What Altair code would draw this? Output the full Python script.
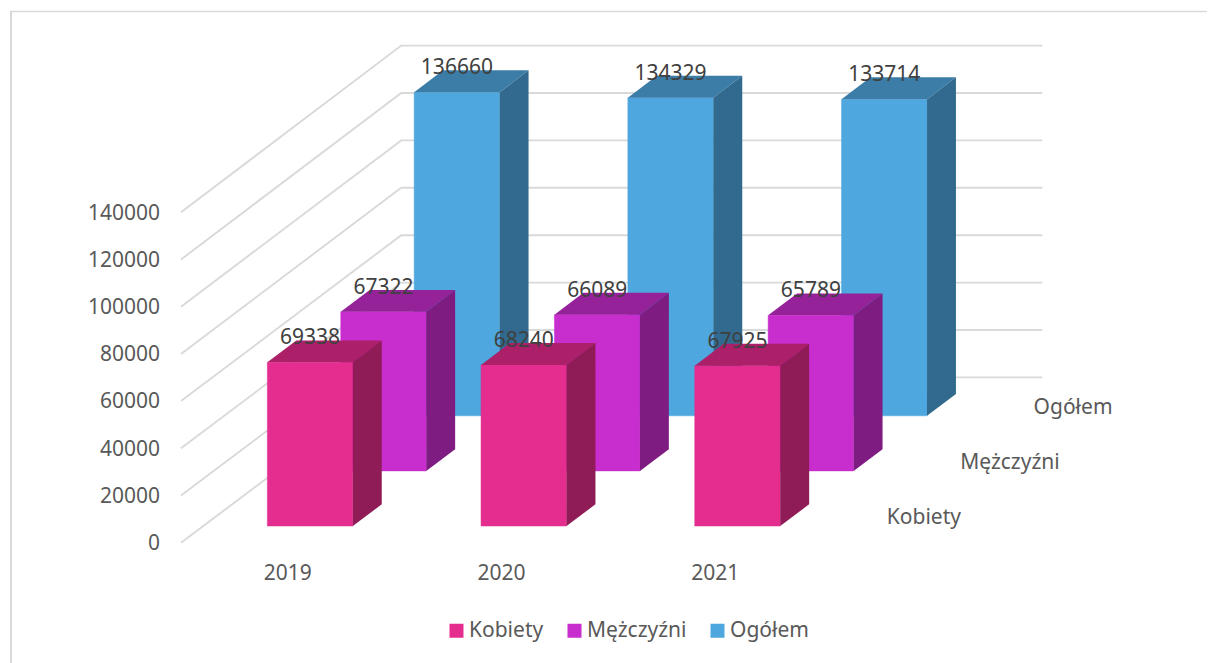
import altair as alt
import pandas as pd

years = ["2019", "2020", "2021"]
series = ["Kobiety", "Mężczyźni", "Ogółem"]
values = {
    "Kobiety": [69338, 68240, 67925],
    "Mężczyźni": [67322, 66089, 65789],
    "Ogółem": [136660, 134329, 133714],
}
ticks = [0, 20000, 40000, 60000, 80000, 100000, 120000, 140000]
front = ["#E42D8F", "#C82DCD", "#4EA7DE"]
top = ["#AB2069", "#96229A", "#3B7DA6"]
side = ["#8F1C57", "#7F1C82", "#316A8E"]
FONT = "Noto Sans"
FS = 21


def px(xu, d):
    return 181 + 213.7 * xu + 73.4 * d


def py(d, v):
    return 542.7 - 55.1 * d - (0.00236 + 0.00001 * d / 3) * v


W, H = 1205, 655
X = alt.X("x:Q", scale=alt.Scale(domain=[8, 8 + W], nice=False, zero=False), axis=None)
Y = alt.Y("y:Q", scale=alt.Scale(domain=[8 + H, 8], nice=False, zero=False), axis=None)
color = alt.Color(
    "series:N",
    scale=alt.Scale(domain=series, range=front),
    sort=series,
    legend=alt.Legend(
        title=None, orient="none", direction="horizontal", legendX=438, legendY=612,
        symbolType="square", symbolSize=196, symbolStrokeWidth=0, columnPadding=20,
        labelFont=FONT, labelFontSize=FS, labelColor="#595959", labelOffset=2,
        padding=0,
    ),
)

layers = []

# frame
frame_top = pd.DataFrame({"x": [10, 1207], "y": [11.5, 11.5]})
layers.append(alt.Chart(frame_top).mark_line(color="#D9D9D9", strokeWidth=1.3).encode(x=X, y=Y))
frame_left = pd.DataFrame({"x": [11, 11], "y": [11, 663]})
layers.append(alt.Chart(frame_left).mark_line(color="#D9D9D9", strokeWidth=2).encode(x=X, y=Y))

# walls
rows = []
for t in ticks:
    for k, (xu, d) in enumerate([(0, 0), (0, 3), (3, 3)]):
        rows.append({"tick": t, "k": k, "x": px(xu, d), "y": py(d, t)})
layers.append(
    alt.Chart(pd.DataFrame(rows))
    .mark_line(color="#D9D9D9", strokeWidth=1.9)
    .encode(x=X, y=Y, detail="tick:N", order="k:Q")
)

# bars, back to front
for s in [2, 1, 0]:
    name = series[s]
    d0, d1 = s + 0.303, s + 0.697
    frows, srows, trows = [], [], []
    for i, v in enumerate(values[name]):
        x0, x1 = i + 0.3, i + 0.7
        frows.append({"series": name, "x": px(x0, d0), "x2": px(x1, d0), "y": py(d0, v), "y2": py(d0, 0)})
        for d in (d0, d1):
            srows.append({"year": years[i], "x": px(x1, d), "y": py(d, v), "y2": py(d, 0)})
            trows.append({"year": years[i], "y": py(d, v), "x": px(x0, d), "x2": px(x1, d)})
    layers.append(
        alt.Chart(pd.DataFrame(frows))
        .mark_rect(stroke=front[s], strokeWidth=0.5)
        .encode(x=X, x2="x2:Q", y=Y, y2="y2:Q", color=color)
    )
    layers.append(
        alt.Chart(pd.DataFrame(trows))
        .mark_area(orient="horizontal", color=top[s], interpolate="linear")
        .encode(x=X, x2="x2:Q", y=Y, detail="year:N")
    )
    layers.append(
        alt.Chart(pd.DataFrame(srows))
        .mark_area(orient="vertical", color=side[s], interpolate="linear")
        .encode(x=X, y=Y, y2="y2:Q", detail="year:N")
    )

# data labels
rows = []
for s in [2, 1, 0]:
    for i, v in enumerate(values[series[s]]):
        rows.append({"x": px(i + 0.5, s + 0.303), "y": py(s + 0.303, v) - 24, "t": str(v)})
layers.append(
    alt.Chart(pd.DataFrame(rows))
    .mark_text(font=FONT, fontSize=FS, color="#404040", align="center", baseline="middle")
    .encode(x=X, y=Y, text="t:N")
)

# value axis labels
ax = pd.DataFrame({"x": [px(0, 0) - 21] * len(ticks), "y": [py(0, t) + 1.3 for t in ticks], "t": [str(t) for t in ticks]})
layers.append(
    alt.Chart(ax)
    .mark_text(font=FONT, fontSize=FS, color="#595959", align="right", baseline="middle")
    .encode(x=X, y=Y, text="t:N")
)
# year labels
yl = pd.DataFrame({"x": [px(i + 0.5, 0) for i in range(3)], "y": [py(0, 0) + 31.5] * 3, "t": years})
layers.append(
    alt.Chart(yl)
    .mark_text(font=FONT, fontSize=FS, color="#595959", align="center", baseline="middle")
    .encode(x=X, y=Y, text="t:N")
)
# series labels
sl = pd.DataFrame({"x": [px(3, s + 0.5) + 28 for s in range(3)], "y": [py(s + 0.5, 0) + 2.8 for s in range(3)], "t": series})
layers.append(
    alt.Chart(sl)
    .mark_text(font=FONT, fontSize=FS, color="#595959", align="left", baseline="middle")
    .encode(x=X, y=Y, text="t:N")
)

chart = (
    alt.layer(*layers)
    .properties(width=W, height=H, padding=0, background="white", autosize=alt.AutoSizeParams(type="none"))
    .configure_view(stroke=None)
)
chart.save("out.html", embed_options={"renderer": "svg", "actions": False})
